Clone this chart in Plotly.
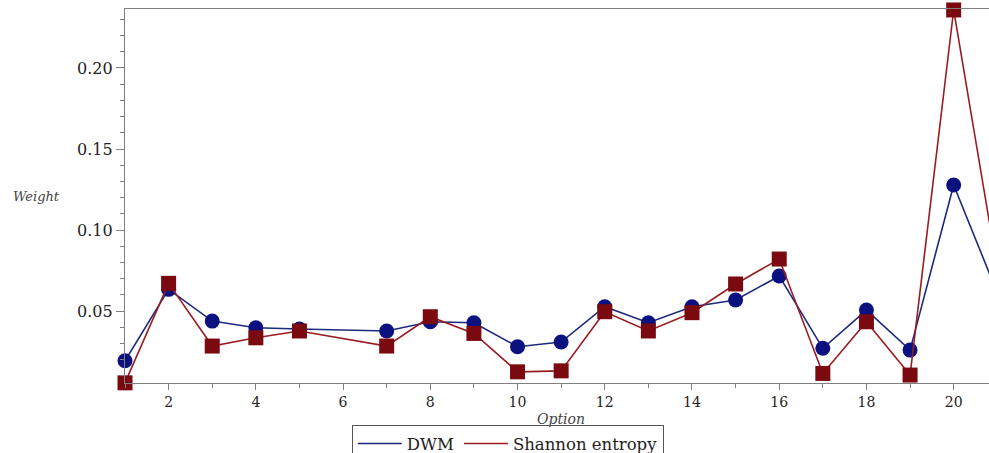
import plotly.graph_objects as go

options = [1, 2, 3, 4, 5, 7, 8, 9, 10, 11, 12, 13, 14, 15, 16, 17, 18, 19, 20, 21]
dwm = [0.0193, 0.0634, 0.0438, 0.0397, 0.0389, 0.0377, 0.0434, 0.0428, 0.0280, 0.0309,
       0.0527, 0.0428, 0.0527, 0.0568, 0.0716, 0.0270, 0.0506, 0.0259, 0.1278, 0.0612]
shannon = [0.0057, 0.0671, 0.0284, 0.0335, 0.0377, 0.0284, 0.0465, 0.0362, 0.0125, 0.0131,
           0.0496, 0.0377, 0.0490, 0.0667, 0.0821, 0.0115, 0.0434, 0.0105, 0.2358, 0.0760]

BLUE_LINE = "#1c2a7e"
BLUE_MK = "#0b1280"
RED_LINE = "#9a1c22"
RED_MK = "#7a0a0f"
SERIF = "DejaVu Serif, serif"

fig = go.Figure()
fig.add_trace(go.Scatter(x=options, y=dwm, mode="lines+markers", name="DWM",
                         line=dict(color=BLUE_LINE, width=1.6),
                         marker=dict(symbol="circle", size=15, color=BLUE_MK),
                         cliponaxis=False, showlegend=False))
fig.add_trace(go.Scatter(x=options, y=shannon, mode="lines+markers", name="Shannon entropy",
                         line=dict(color=RED_LINE, width=1.6),
                         marker=dict(symbol="square", size=15, color=RED_MK),
                         cliponaxis=False, showlegend=False))
# legend entries (line only)
fig.add_trace(go.Scatter(x=[None], y=[None], mode="lines", name="DWM",
                         line=dict(color=BLUE_LINE, width=1.6)))
fig.add_trace(go.Scatter(x=[None], y=[None], mode="lines", name="Shannon entropy",
                         line=dict(color=RED_LINE, width=1.6)))

axis_common = dict(showgrid=False, zeroline=False, showline=True, linecolor="#808080",
                   linewidth=1.2, ticks="outside", tickcolor="#808080")

fig.update_xaxes(range=[1, 20.81], tick0=0, dtick=2, ticklen=6, mirror=True,
                 tickfont=dict(family=SERIF, size=14, color="#222"),
                 minor=dict(dtick=1, tick0=0, ticks="outside", ticklen=4, tickcolor="#808080"),
                 **axis_common)
fig.update_yaxes(range=[0.0056, 0.2364], tick0=0, dtick=0.05, tickformat=".2f", ticklen=8,
                 tickfont=dict(family=SERIF, size=16, color="#222"),
                 minor=dict(dtick=0.01, tick0=0, ticks="outside", ticklen=4, tickcolor="#808080"),
                 **axis_common)

fig.add_annotation(text="<i>Weight</i>", xref="paper", yref="paper", x=-0.102, y=0.5,
                   xanchor="center", yanchor="middle",
                   showarrow=False, font=dict(family=SERIF, size=13, color="#444"))
fig.add_annotation(text="<i>Option</i>", xref="paper", yref="paper", x=0.505, y=-0.0963,
                   xanchor="center", yanchor="middle",
                   showarrow=False, font=dict(family=SERIF, size=14, color="#444"))

fig.update_layout(
    width=989, height=453,
    margin=dict(l=125, r=0, t=9, b=70, autoexpand=False),
    paper_bgcolor="white", plot_bgcolor="white",
    legend=dict(orientation="h", xref="paper", yref="paper",
                x=0.443, xanchor="center", y=-0.113, yanchor="top",
                bordercolor="#555", borderwidth=1,
                font=dict(family=SERIF, size=16.5, color="#222"),
                itemwidth=44, tracegroupgap=0),
)

fig.write_html("out.html", config={"displayModeBar": False},
               post_script="document.body.style.margin='0';document.body.style.overflow='hidden';")
